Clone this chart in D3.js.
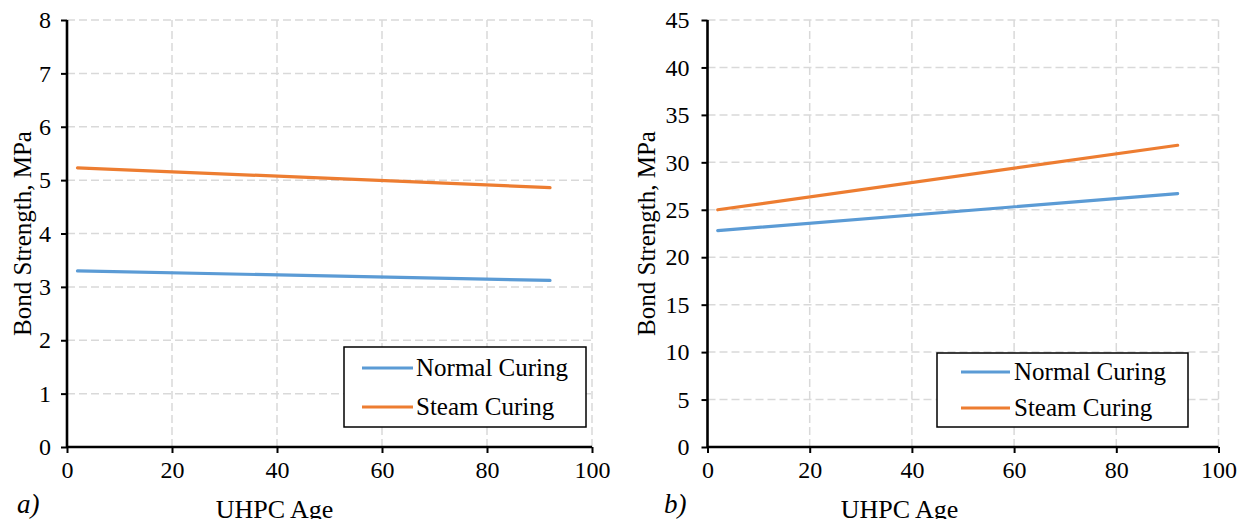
<!DOCTYPE html>
<html>
<head>
<meta charset="utf-8">
<script src="https://cdn.jsdelivr.net/npm/d3@7"></script>
<style>
  html, body { margin: 0; padding: 0; background: #fff; }
  svg { display: block; }
  svg text { font-family: "Liberation Serif", "Tinos", "Times New Roman", "DejaVu Serif", serif !important; fill: #000; }
</style>
</head>
<body>
<svg id="chart" width="1242" height="519"></svg>
<script>
// ---- data ----
const ages = [2, 92];
const normalA = [3.30, 3.12];
const steamA = [5.23, 4.86];
const normalB = [22.8, 26.7];
const steamB = [25.0, 31.8];
const xTicks = [0, 20, 40, 60, 80, 100];
const yTicksA = [0, 1, 2, 3, 4, 5, 6, 7, 8];
const yTicksB = [0, 5, 10, 15, 20, 25, 30, 35, 40, 45];
const seriesNames = ["Normal Curing", "Steam Curing"];
const seriesColors = ["#5b9bd5", "#ed7d31"];
const xLabel = "UHPC Age";
const yLabel = "Bond Strength, MPa";
const panelTags = ["a)", "b)"];

const svg = d3.select("#chart");

function drawPanel(cfg) {
  const g = svg.append("g");
  const x = d3.scaleLinear().domain([0, 100]).range([cfg.x0, cfg.x1]);
  const y = d3.scaleLinear().domain([0, cfg.yMax]).range([447, 20]);

  g.append("g").selectAll("line").data(cfg.yTicks.filter(d => d > 0)).join("line")
    .attr("x1", cfg.x0).attr("x2", cfg.x1)
    .attr("y1", d => y(d)).attr("y2", d => y(d))
    .attr("stroke", "#d9d9d9").attr("stroke-width", 1.5).attr("stroke-dasharray", "8,4");
  g.append("g").selectAll("line").data(xTicks.filter(d => d > 0)).join("line")
    .attr("x1", d => x(d)).attr("x2", d => x(d))
    .attr("y1", y(0)).attr("y2", y(cfg.yMax))
    .attr("stroke", "#d9d9d9").attr("stroke-width", 1.5).attr("stroke-dasharray", "8,4");

  const xAxis = d3.axisBottom(x).tickValues(xTicks).tickSize(6).tickPadding(8).tickFormat(d3.format("d"));
  const yAxis = d3.axisLeft(y).tickValues(cfg.yTicks).tickSize(6).tickPadding(cfg.yPad).tickFormat(d3.format("d"));
  const gx = g.append("g").attr("transform", `translate(0,${y(0)})`).call(xAxis);
  const gy = g.append("g").attr("transform", `translate(${cfg.x0},0)`).call(yAxis);
  [gx, gy].forEach(a => {
    a.attr("font-family", null).attr("font-size", null);
    a.select(".domain").attr("stroke", "#000").attr("stroke-width", 2.6);
    a.selectAll(".tick line").attr("stroke", "#000").attr("stroke-width", 2);
    a.selectAll(".tick text").attr("font-size", 24).attr("fill", "#000");
  });
  gx.select(".domain").attr("d", `M${cfg.x0},0H${cfg.x1}`);
  gy.select(".domain").attr("d", `M0,${y(cfg.yMax)}V${y(0)}`);

  const line = d3.line().x(d => x(d[0])).y(d => y(d[1]));
  cfg.series.forEach((vals, i) => {
    g.append("path")
      .datum(ages.map((a, k) => [a, vals[k]]))
      .attr("d", line)
      .attr("fill", "none")
      .attr("stroke", seriesColors[i])
      .attr("stroke-width", 3.2)
      .attr("stroke-linecap", "round");
  });

  const L = cfg.legend;
  g.append("rect").attr("x", L.x).attr("y", L.y).attr("width", L.w).attr("height", L.h)
    .attr("fill", "#fff").attr("stroke", "#000").attr("stroke-width", 1.5);
  seriesNames.forEach((name, i) => {
    const ly = L.rows[i];
    g.append("line").attr("x1", L.lx0).attr("x2", L.lx1).attr("y1", ly).attr("y2", ly)
      .attr("stroke", seriesColors[i]).attr("stroke-width", 3.2);
    g.append("text").attr("x", L.tx).attr("y", ly).attr("dy", "0.33em")
      .attr("font-size", 25).text(name);
  });

  g.append("text").attr("x", cfg.xLabelX).attr("y", 518).attr("text-anchor", "middle")
    .attr("font-size", 26).text(xLabel);
  g.append("text").attr("transform", `translate(${cfg.yLabelX},${(y(0) + y(cfg.yMax)) / 2}) rotate(-90)`)
    .attr("text-anchor", "middle").attr("dy", "0.35em")
    .attr("font-size", 25).text(yLabel);
  g.append("text").attr("x", cfg.tagX).attr("y", 513)
    .attr("font-size", 27).attr("font-style", "italic").text(cfg.tag);
}

drawPanel({
  x0: 67, x1: 592, yMax: 8, yTicks: yTicksA, yPad: 10,
  series: [normalA, steamA],
  legend: { x: 344, y: 347, w: 242, h: 80, lx0: 362, lx1: 413, tx: 416, rows: [368, 407] },
  xLabelX: 274.5, yLabelX: 22, tagX: 17, tag: panelTags[0]
});
drawPanel({
  x0: 707.5, x1: 1218.5, yMax: 45, yTicks: yTicksB, yPad: 12,
  series: [normalB, steamB],
  legend: { x: 937, y: 353, w: 251, h: 74, lx0: 961, lx1: 1010, tx: 1014, rows: [372, 408] },
  xLabelX: 899.5, yLabelX: 646, tagX: 664, tag: panelTags[1]
});
</script>
</body>
</html>
